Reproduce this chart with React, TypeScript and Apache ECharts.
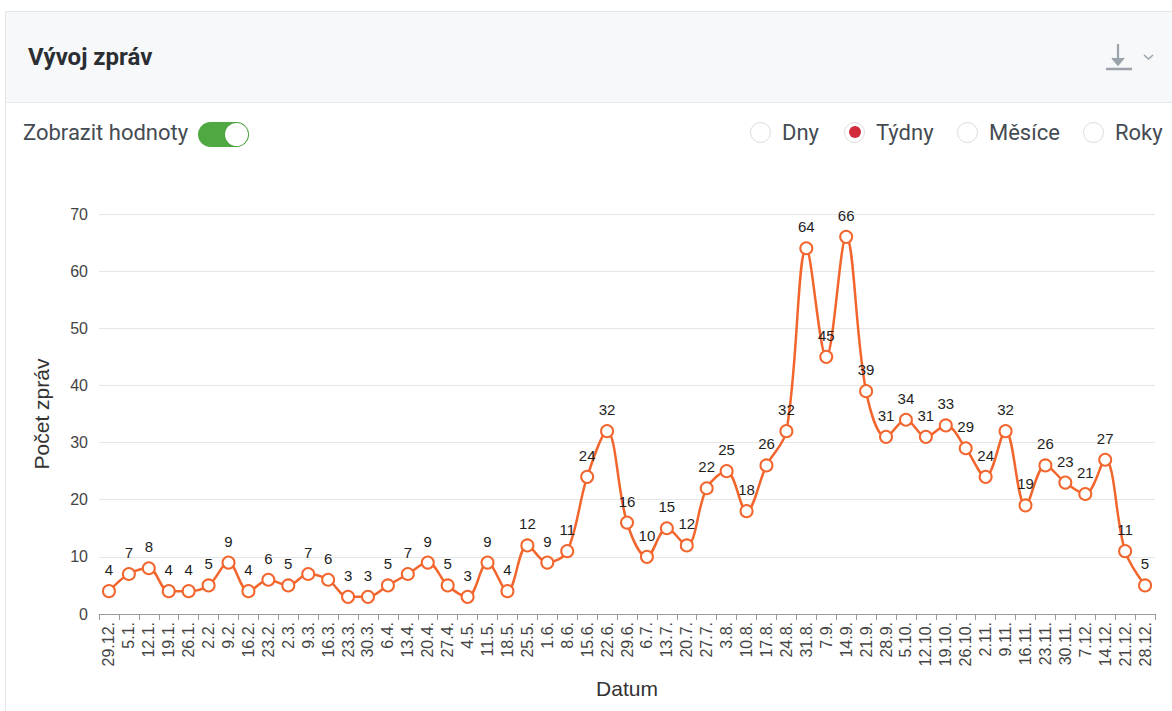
import React, { useEffect, useRef } from "react";
import * as echarts from "echarts";

const categories = [
  "29.12.", "5.1.", "12.1.", "19.1.", "26.1.", "2.2.", "9.2.", "16.2.", "23.2.", "2.3.",
  "9.3.", "16.3.", "23.3.", "30.3.", "6.4.", "13.4.", "20.4.", "27.4.", "4.5.", "11.5.",
  "18.5.", "25.5.", "1.6.", "8.6.", "15.6.", "22.6.", "29.6.", "6.7.", "13.7.", "20.7.",
  "27.7.", "3.8.", "10.8.", "17.8.", "24.8.", "31.8.", "7.9.", "14.9.", "21.9.", "28.9.",
  "5.10.", "12.10.", "19.10.", "26.10.", "2.11.", "9.11.", "16.11.", "23.11.", "30.11.", "7.12.",
  "14.12.", "21.12.", "28.12.",
];

const counts = [
  4, 7, 8, 4, 4, 5, 9, 4, 6, 5,
  7, 6, 3, 3, 5, 7, 9, 5, 3, 9,
  4, 12, 9, 11, 24, 32, 16, 10, 15, 12,
  22, 25, 18, 26, 32, 64, 45, 66, 39, 31,
  34, 31, 33, 29, 24, 32, 19, 26, 23, 21,
  27, 11, 5,
];

const yTicks = { min: 0, max: 70, interval: 10 };
const periodOptions = ["Dny", "Týdny", "Měsíce", "Roky"];
const selectedPeriod = "Týdny";

const FONT = "Liberation Sans, Arial, sans-serif";

const Radio = ({ label, checked, left }: { label: string; checked: boolean; left: number }) => (
  <div style={{ position: "absolute", left, top: 119, height: 26, display: "flex", alignItems: "center" }}>
    <div
      style={{
        width: 21,
        height: 21,
        borderRadius: "50%",
        border: "1px solid #dcdcdc",
        boxSizing: "border-box",
        background: "#fff",
        display: "flex",
        alignItems: "center",
        justifyContent: "center",
      }}
    >
      {checked && <div style={{ width: 12, height: 12, borderRadius: "50%", background: "#d22b3a" }} />}
    </div>
    <span style={{ marginLeft: 11, fontSize: 22, color: "#454b52", fontFamily: "Roboto, sans-serif" }}>{label}</span>
  </div>
);

export default function App() {
  const ref = useRef<HTMLDivElement>(null);

  useEffect(() => {
    if (!ref.current) return;
    const chart = echarts.init(ref.current, undefined, { renderer: "svg" });
    chart.setOption({
      animation: false,
      grid: { left: 99, right: 17, top: 54, bottom: 97, containLabel: false },
      xAxis: {
        type: "category",
        data: categories,
        boundaryGap: true,
        name: "Datum",
        nameLocation: "middle",
        nameGap: 64,
        nameTextStyle: { fontSize: 21, color: "#333", fontFamily: FONT },
        axisLine: { lineStyle: { color: "#9a9a9a", width: 1 } },
        axisTick: { show: true, length: 6, lineStyle: { color: "#9a9a9a" }, alignWithLabel: false },
        axisLabel: {
          rotate: 90,
          interval: 0,
          margin: 8,
          fontSize: 16,
          color: "#444",
          fontFamily: FONT,
        },
        splitLine: { show: false },
      },
      yAxis: {
        type: "value",
        min: yTicks.min,
        max: yTicks.max,
        interval: yTicks.interval,
        name: "Počet zpráv",
        nameLocation: "middle",
        nameGap: 47,
        nameTextStyle: { fontSize: 21, color: "#333", fontFamily: FONT },
        axisLine: { show: false },
        axisTick: { show: false },
        axisLabel: { fontSize: 16, color: "#444", margin: 11, fontFamily: FONT },
        splitLine: { lineStyle: { color: "#e6e6e6", width: 1 } },
      },
      series: [
        {
          type: "line",
          data: counts,
          smooth: 0.35,
          symbol: "emptyCircle",
          symbolSize: 12,
          showAllSymbol: true,
          lineStyle: { color: "#f2662e", width: 2.5 },
          itemStyle: { color: "#f2662e", borderColor: "#f2662e", borderWidth: 2.5 },
          label: {
            show: true,
            position: "top",
            distance: 7,
            fontSize: 15,
            color: "#1e1e1e",
            fontFamily: FONT,
          },
        },
      ],
    });
    return () => chart.dispose();
  }, []);

  return (
    <div style={{ position: "fixed", left: 0, top: 0, width: 1172, height: 711, background: "#fff", overflow: "hidden" }}>
      <div
        style={{
          position: "absolute",
          left: 5,
          top: 11,
          width: 1180,
          height: 720,
          border: "1px solid #e3e7ec",
          boxSizing: "border-box",
          background: "#fff",
        }}
      />
      <div
        style={{
          position: "absolute",
          left: 6,
          top: 12,
          width: 1170,
          height: 90,
          background: "#f7f8f9",
          borderBottom: "1px solid #e6eaee",
        }}
      />
      <div
        style={{
          position: "absolute",
          left: 28,
          top: 43,
          fontSize: 24,
          fontWeight: 700,
          color: "#2b2f33",
          fontFamily: "Roboto, sans-serif",
        }}
      >
        Vývoj zpráv
      </div>
      <svg style={{ position: "absolute", left: 1100, top: 40 }} width={60} height={36}>
        <line x1={18} y1={4} x2={18} y2={24} stroke="#9aa3ab" strokeWidth={2.2} />
        <polyline points="12,18 18,25 24,18" fill="#9aa3ab" stroke="#9aa3ab" strokeWidth={1.5} />
        <line x1={6} y1={29} x2={32} y2={29} stroke="#9aa3ab" strokeWidth={2.5} />
        <polyline points="44,15 48.5,19 53,15" fill="none" stroke="#9aa3ab" strokeWidth={1.6} />
      </svg>
      <div
        style={{
          position: "absolute",
          left: 23,
          top: 120,
          fontSize: 22,
          color: "#454b52",
          fontFamily: "Roboto, sans-serif",
        }}
      >
        Zobrazit hodnoty
      </div>
      <div
        style={{
          position: "absolute",
          left: 198,
          top: 122,
          width: 51,
          height: 25,
          borderRadius: 13,
          background: "#4fa842",
        }}
      >
        <div
          style={{
            position: "absolute",
            right: 1,
            top: 1,
            width: 23,
            height: 23,
            borderRadius: "50%",
            background: "#fff",
            boxShadow: "0 0 1px rgba(0,0,0,0.3)",
          }}
        />
      </div>
      {periodOptions.map((p, i) => (
        <Radio key={p} label={p} checked={p === selectedPeriod} left={[750, 844, 957, 1083][i]} />
      ))}
      <div ref={ref} style={{ position: "absolute", left: 0, top: 160, width: 1172, height: 551 }} />
    </div>
  );
}
